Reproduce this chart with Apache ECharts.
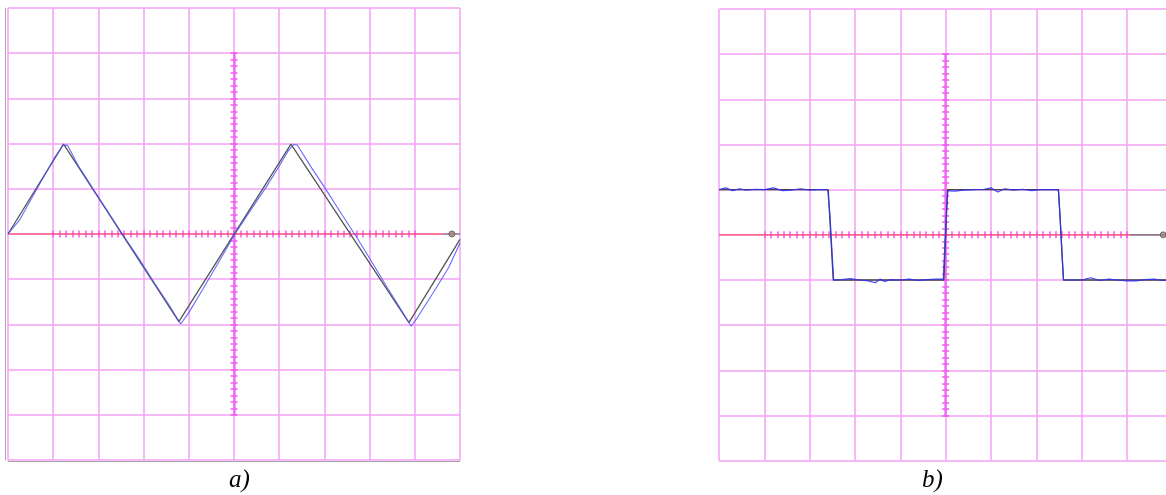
<!DOCTYPE html>
<html>
<head>
<meta charset="utf-8">
<script src="https://cdn.jsdelivr.net/npm/echarts@6/dist/echarts.min.js"></script>
<style>html,body{margin:0;padding:0;background:#fff;}#c{width:1166px;height:495px;}</style>
</head>
<body>
<div id="c"></div>
<script>
// ---- data (in screen divisions) ----
const triIdealX = [-5, -3.77, -1.22, 1.26, 3.87, 5];
const triIdealY = [0, 1.99, -1.94, 1.99, -1.96, -0.12];

const triMeasX = [-5.0, -4.75, -4.55, -4.35, -4.12, -3.95, -3.78, -3.68, -3.45, -3.1, -2.75, -2.45, -2.1, -1.75, -1.45, -1.18, -1.0, -0.7, -0.35, 0.02, 0.35, 0.7, 1.0, 1.2, 1.32, 1.4, 1.7, 2.05, 2.4, 2.7, 3.05, 3.4, 3.65, 3.92, 4.05, 4.4, 4.75, 5.0];
const triMeasY = [0.0, 0.3, 0.66, 1.02, 1.42, 1.72, 1.97, 1.96, 1.52, 0.97, 0.43, -0.03, -0.55, -1.1, -1.55, -1.99, -1.74, -1.24, -0.64, 0.0, 0.5, 1.02, 1.5, 1.84, 1.98, 1.97, 1.49, 0.96, 0.41, -0.05, -0.62, -1.2, -1.6, -2.04, -1.86, -1.31, -0.74, -0.2];

const sqIdealX = [-5, -2.59, -2.48, -0.04, 0.04, 2.49, 2.6, 5];
const sqIdealY = [1, 1, -1, -1, 1, 1, -1, -1];

const sqMeasX = [-5, -4.85, -4.7, -4.55, -4.4, -4.2, -4.0, -3.8, -3.6, -3.4, -3.2, -3.0, -2.8, -2.6, -2.59, -2.55, -2.5, -2.47, -2.3, -2.1, -1.9, -1.7, -1.55, -1.45, -1.35, -1.2, -1.0, -0.8, -0.6, -0.4, -0.2, -0.05, -0.03, 0.0, 0.03, 0.05, 0.2, 0.4, 0.6, 0.85, 1.0, 1.15, 1.3, 1.5, 1.7, 1.9, 2.1, 2.3, 2.47, 2.49, 2.53, 2.57, 2.6, 2.8, 3.0, 3.2, 3.4, 3.6, 3.8, 4.0, 4.2, 4.4, 4.6, 4.8, 5.0];
const sqMeasY = [1.0, 1.04, 0.98, 1.02, 0.99, 1.01, 1.0, 1.04, 0.98, 0.99, 1.02, 0.99, 1.0, 1.0, 1.0, 0.4, -0.5, -1.0, -0.99, -0.97, -1.0, -1.02, -1.06, -0.98, -1.03, -0.99, -1.0, -0.98, -1.01, -0.99, -0.98, -0.98, -0.5, 0.1, 0.7, 0.98, 0.97, 0.99, 1.0, 1.01, 1.04, 0.95, 1.02, 0.99, 1.01, 0.98, 1.0, 1.0, 1.0, 0.95, 0.3, -0.5, -1.0, -1.0, -1.0, -0.95, -1.01, -0.98, -1.0, -1.02, -1.02, -0.99, -0.98, -1.01, -1.0];

const zeroLevelA = [-5, 4.62];
const probeA = [4.62, 5];
const probeDotA = 4.82;
const zeroLevelB = [-5, 4.07];
const probeB = [4.07, 5];
const probeDotB = 4.8;

const panelLabels = ['a)', 'b)'];
const centerTicks = [-4, 4, 7];    // span and minor subdivisions of centre scale

// ---- styles / layout ----
const GRID_COLOR = '#f4a0f4';
const TICK_COLOR = 'rgba(240,90,240,0.75)';
// panel b is cut by the page's right edge: its visible x range ends before +5 div
const panels = [
  {left: 8, top: 8, divX: 45.2, divY: 45.2, xMax: 5, border: true},
  {left: 719, top: 9, divX: 45.33, divY: 45.17, xMax: 4.86, border: false}
];

const zip = (xs, ys) => xs.map((x, i) => [x, ys[i]]);

const grids = [], xAxes = [], yAxes = [], series = [];

function addPanel(p) {
  const w = p.divX * (p.xMax + 5), h = p.divY * 10;
  const cx = p.left + p.divX * 5, cy = p.top + h / 2;
  const g = grids.length;
  grids.push({left: p.left, top: p.top, width: w, height: h, containLabel: false});
  const mainX = xAxes.length;
  xAxes.push({gridIndex: g, type: 'value', min: -5, max: p.xMax, interval: 1,
    axisLine: {show: p.border, onZero: false, lineStyle: {color: '#a8a8a8', width: 1}}, offset: p.border ? 1 : 0,
    axisTick: {show: false}, axisLabel: {show: false},
    splitLine: {show: true, showMaxLine: p.xMax === 5, lineStyle: {color: GRID_COLOR, width: 1.5}}});
  const mainY = yAxes.length;
  yAxes.push({gridIndex: g, type: 'value', min: -5, max: 5, interval: 1,
    axisLine: {show: p.border, onZero: false, lineStyle: {color: '#a8a8a8', width: 1}}, offset: p.border ? 2.5 : 0,
    axisTick: {show: false}, axisLabel: {show: false},
    splitLine: {show: true, lineStyle: {color: GRID_COLOR, width: 1.5}}});

  const spanX = (centerTicks[1] - centerTicks[0]) * p.divX;
  const spanY = (centerTicks[1] - centerTicks[0]) * p.divY;
  const gh = grids.length;
  grids.push({left: cx - spanX / 2, top: cy - 3.5, width: spanX, height: 7});
  xAxes.push({gridIndex: gh, type: 'value', min: centerTicks[0], max: centerTicks[1], interval: 1, position: 'bottom',
    axisLine: {show: false, onZero: false},
    axisTick: {show: true, inside: true, length: 7, lineStyle: {color: TICK_COLOR, width: 2}},
    minorTick: {show: true, splitNumber: centerTicks[2], length: 7, lineStyle: {color: TICK_COLOR, width: 2}},
    axisLabel: {show: false}, splitLine: {show: false}});
  yAxes.push({gridIndex: gh, type: 'value', min: 0, max: 1, show: false});
  const gv = grids.length;
  grids.push({left: cx - 3.5, top: cy - spanY / 2, width: 7, height: spanY});
  xAxes.push({gridIndex: gv, type: 'value', min: -1, max: 1, show: false});
  yAxes.push({gridIndex: gv, type: 'value', min: centerTicks[0], max: centerTicks[1], interval: 1, position: 'left',
    axisLine: {show: false, onZero: false},
    axisTick: {show: true, inside: true, length: 7, lineStyle: {color: TICK_COLOR, width: 2}},
    minorTick: {show: true, splitNumber: centerTicks[2], length: 7, lineStyle: {color: TICK_COLOR, width: 2}},
    axisLabel: {show: false}, splitLine: {show: false}});
  yAxes.push({gridIndex: gv, type: 'value', min: centerTicks[0], max: centerTicks[1], position: 'left', offset: -3.5,
    axisLine: {show: true, onZero: false, lineStyle: {color: 'rgba(240,90,240,0.8)', width: 2.5}},
    axisTick: {show: false}, axisLabel: {show: false}, splitLine: {show: false}});
  return {x: mainX, y: mainY};
}

const A = addPanel(panels[0]);
const B = addPanel(panels[1]);

function baseLine(ax, zero, probe, dot) {
  series.push({type: 'line', xAxisIndex: ax.x, yAxisIndex: ax.y, symbol: 'none', silent: true, z: 3,
    data: zero.map(v => [v, 0]), lineStyle: {color: 'rgba(255,70,90,0.75)', width: 1.5}});
  series.push({type: 'line', xAxisIndex: ax.x, yAxisIndex: ax.y, symbol: 'none', silent: true, z: 3,
    data: probe.map(v => [v, 0]), lineStyle: {color: '#666', width: 1.2}});
  series.push({type: 'scatter', xAxisIndex: ax.x, yAxisIndex: ax.y, symbol: 'circle', symbolSize: 6, silent: true, z: 4,
    data: [[dot, 0]], itemStyle: {color: '#a08080', borderColor: '#555', borderWidth: 1}});
}

baseLine(A, zeroLevelA, probeA, probeDotA);
series.push({type: 'line', xAxisIndex: A.x, yAxisIndex: A.y, symbol: 'none', z: 5,
  data: zip(triIdealX, triIdealY), lineStyle: {color: '#555', width: 1.3}});
series.push({type: 'line', xAxisIndex: A.x, yAxisIndex: A.y, symbol: 'none', z: 6,
  data: zip(triMeasX, triMeasY), lineStyle: {color: 'rgba(80,80,255,0.85)', width: 1.1}});

baseLine(B, zeroLevelB, probeB, probeDotB);
series.push({type: 'line', xAxisIndex: B.x, yAxisIndex: B.y, symbol: 'none', z: 5,
  data: zip(sqIdealX, sqIdealY), lineStyle: {color: '#444', width: 1.3}});
series.push({type: 'line', xAxisIndex: B.x, yAxisIndex: B.y, symbol: 'none', z: 6,
  data: zip(sqMeasX, sqMeasY), lineStyle: {color: 'rgba(50,50,240,0.9)', width: 1.2}});

const labelStyle = {fontFamily: '"Liberation Serif", "DejaVu Serif", serif', fontStyle: 'italic', fontSize: 25, fill: '#000'};
const graphic = [
  {type: 'text', left: 229, top: 468, style: Object.assign({text: panelLabels[0]}, labelStyle)},
  {type: 'text', left: 922, top: 468, style: Object.assign({text: panelLabels[1]}, labelStyle)}
];

const chart = echarts.init(document.getElementById('c'), null, {renderer: 'canvas'});
chart.setOption({
  animation: false,
  backgroundColor: '#fff',
  grid: grids,
  xAxis: xAxes,
  yAxis: yAxes,
  series: series,
  graphic: graphic
});
</script>
</body>
</html>
